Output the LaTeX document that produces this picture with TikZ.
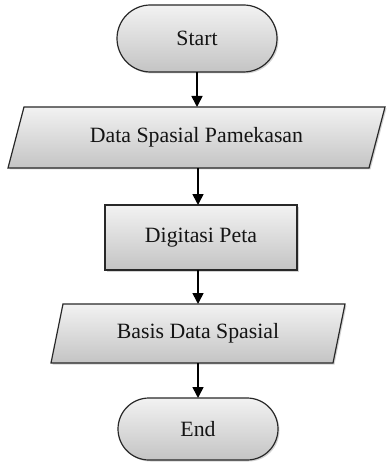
\documentclass[tikz,border=0pt]{standalone}
\usepackage{fontspec}
\setmainfont{Liberation Serif}
\usetikzlibrary{arrows.meta,shadows,backgrounds}
\definecolor{fillTop}{RGB}{242,242,242}
\definecolor{fillBot}{RGB}{196,196,196}
\definecolor{lineC}{RGB}{40,40,40}
\definecolor{textC}{RGB}{20,20,20}
\begin{document}
\begin{tikzpicture}[x=1pt,y=1pt,
  boxfill/.style={top color=fillTop, bottom color=fillBot, draw=lineC, line width=1.2pt,
    drop shadow={shadow xshift=1.5pt,shadow yshift=-1.5pt,opacity=0.35}},
  lbl/.style={inner sep=0pt, outer sep=0pt, text=textC, font=\fontsize{21.8}{26}\selectfont},
  term/.style={lbl, boxfill, rectangle},
  procbox/.style={lbl, boxfill, rectangle},
  iobox/.style={lbl, rectangle, draw=none},
  conn/.style={draw=black, line width=1.6pt, -{Triangle[length=11pt,width=11pt]}}
]
\useasboundingbox (0,0) rectangle (386,-462);

\node[term, rounded corners=33.5pt, minimum width=160pt, minimum height=67pt] (start) at (197,-38.5) {Start};
\node[iobox, minimum width=377pt, minimum height=61pt] (p1) at (196.5,-137.5) {Data Spasial Pamekasan};
\node[procbox, minimum width=192pt, minimum height=65pt] (dig) at (201,-237.5) {Digitasi Peta};
\node[iobox, minimum width=294pt, minimum height=59pt] (p2) at (198,-333.5) {Basis Data Spasial};
\node[term, rounded corners=31pt, minimum width=160pt, minimum height=62pt] (end) at (198,-429) {End};

\begin{scope}[on background layer]
  \path[boxfill] ([xshift=16pt]p1.north west) -- (p1.north east) -- ([xshift=-16pt]p1.south east) -- (p1.south west) -- cycle;
  \path[boxfill] ([xshift=12pt]p2.north west) -- (p2.north east) -- ([xshift=-12pt]p2.south east) -- (p2.south west) -- cycle;
\end{scope}

\draw[conn] (start.south) -- (start.south |- p1.north);
\draw[conn] ([xshift=1.5pt]p1.south) -- ([xshift=1.5pt]p1.south |- dig.north);
\draw[conn] ([xshift=-3pt]dig.south) -- ([xshift=-3pt]dig.south |- p2.north);
\draw[conn] (p2.south) -- (p2.south |- end.north);
\end{tikzpicture}
\end{document}
